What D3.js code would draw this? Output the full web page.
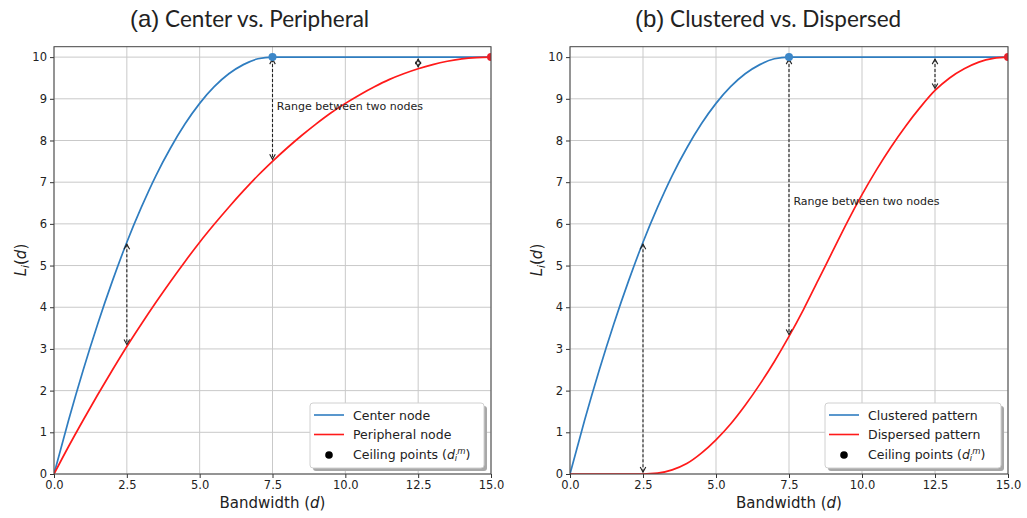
<!DOCTYPE html>
<html>
<head>
<meta charset="utf-8">
<script src="https://cdn.jsdelivr.net/npm/d3@7"></script>
<style>
  html, body { margin: 0; padding: 0; background: #fff; }
  svg { display: block; }
  text { font-family: "DejaVu Sans", sans-serif; fill: #222; }
</style>
</head>
<body>
<svg id="fig" width="1027" height="518"></svg>
<script>
// Bandwidth samples (d) shared by every curve
const bandwidth = [0,0.5,1,1.5,2,2.5,3,3.5,4,4.5,5,5.5,6,6.5,7,7.5,8,8.5,9,9.5,10,10.5,11,11.5,12,12.5,13,13.5,14,14.5,15];

// (a) Center vs. Peripheral
const centerNode = [0,1.29,2.49,3.6,4.62,5.56,6.4,7.16,7.82,8.4,8.89,9.29,9.6,9.82,9.96,10,10,10,10,10,10,10,10,10,10,10,10,10,10,10,10];
const peripheralNode = [0,0.66,1.29,1.9,2.49,3.06,3.6,4.12,4.62,5.1,5.56,5.99,6.4,6.79,7.16,7.5,7.82,8.12,8.4,8.66,8.89,9.1,9.29,9.46,9.6,9.72,9.82,9.9,9.96,9.99,10];

// (b) Clustered vs. Dispersed
const clusteredPattern = centerNode.slice();
const dispersedPattern = [0,0,0,0,0,0,0.02,0.1,0.25,0.5,0.82,1.2,1.65,2.15,2.7,3.3,3.95,4.65,5.35,6.05,6.7,7.3,7.85,8.35,8.8,9.2,9.5,9.72,9.88,9.97,10];

// Ceiling points (d_i^m, L)
const ceilingA = [[7.5, 10, "blue"], [15, 10, "red"]];
const ceilingB = [[7.5, 10, "blue"], [15, 10, "red"]];

// Range arrows: [d, upper L, lower L]
const rangesA = [[2.5, 5.56, 3.06], [7.5, 10, 7.5], [12.5, 10, 9.72]];
const rangesB = [[2.5, 5.56, 0], [7.5, 10, 3.3], [12.5, 10, 9.2]];

const xTicks = [0, 2.5, 5, 7.5, 10, 12.5, 15];
const yTicks = [0,1,2,3,4,5,6,7,8,9,10];

const BLUE = "#2f7dc0", RED = "#ff1a1a";

const svg = d3.select("#fig");

function panel(cfg) {
  const x = d3.scaleLinear().domain([0, 15]).range([cfg.left, cfg.right]);
  const y = d3.scaleLinear().domain([0, 10.25]).range([474, 46.7]);
  const g = svg.append("g");
  const clipId = "clip-" + cfg.key;
  svg.append("defs").append("clipPath").attr("id", clipId)
    .append("rect").attr("x", cfg.left).attr("y", 46.7)
    .attr("width", cfg.right - cfg.left).attr("height", 474 - 46.7);

  // grid
  g.append("g").selectAll("line").data(xTicks).join("line")
    .attr("x1", d => x(d)).attr("x2", d => x(d))
    .attr("y1", y(10.25)).attr("y2", y(0))
    .attr("stroke", "#c9c9c9").attr("stroke-width", 1);
  g.append("g").selectAll("line").data(yTicks).join("line")
    .attr("y1", d => y(d)).attr("y2", d => y(d))
    .attr("x1", cfg.left).attr("x2", cfg.right)
    .attr("stroke", "#c9c9c9").attr("stroke-width", 1);

  // axes
  const xAxis = d3.axisBottom(x).tickValues(xTicks).tickFormat(d3.format(".1f")).tickSizeOuter(0).tickSize(4).tickPadding(3);
  const gx = g.append("g").attr("transform", `translate(0,${y(0)})`).call(xAxis);
  const yAxis = d3.axisLeft(y).tickValues(yTicks).tickFormat(d3.format("d")).tickSizeOuter(0).tickSize(4).tickPadding(3);
  const gy = g.append("g").attr("transform", `translate(${cfg.left},0)`).call(yAxis);
  [gx, gy].forEach(a => {
    a.select(".domain").remove();
    a.selectAll("line").attr("stroke", "#333");
    a.selectAll("text").attr("font-size", 11.5).attr("fill", "#2a2a2a").style("font-family", "DejaVu Sans");
  });

  // curves
  const line = d3.line().x((d, i) => x(bandwidth[i])).y(d => y(d)).curve(d3.curveMonotoneX);
  const curves = g.append("g").attr("clip-path", `url(#${clipId})`);
  curves.append("path").attr("d", line(cfg.blue)).attr("fill", "none").attr("stroke", BLUE).attr("stroke-width", 1.7);
  curves.append("path").attr("d", line(cfg.red)).attr("fill", "none").attr("stroke", RED).attr("stroke-width", 1.7);

  // range arrows
  const arr = g.append("g").attr("stroke", "#222").attr("stroke-width", 1.1).attr("fill", "none");
  cfg.ranges.forEach(([d, hi, lo]) => {
    const xp = x(d), y1 = y(hi) + 2, y2 = y(lo) - 2;
    arr.append("line").attr("x1", xp).attr("x2", xp).attr("y1", y1).attr("y2", y2)
      .attr("stroke-dasharray", "3,2");
    arr.append("path").attr("d", `M${xp - 2.8},${y1 + 5}L${xp},${y1}L${xp + 2.8},${y1 + 5}`);
    arr.append("path").attr("d", `M${xp - 2.8},${y2 - 5}L${xp},${y2}L${xp + 2.8},${y2 - 5}`);
  });
  g.append("text").attr("x", x(cfg.noteX)).attr("y", y(cfg.noteY))
    .attr("font-size", 11).text("Range between two nodes");

  // ceiling points
  g.append("g").attr("clip-path", `url(#${clipId})`).selectAll("circle").data(cfg.ceiling).join("circle")
    .attr("cx", d => x(d[0])).attr("cy", d => y(d[1])).attr("r", 4)
    .attr("fill", d => d[2] === "blue" ? "#3c87c8" : "#e8202a");

  // frame
  g.append("rect").attr("x", cfg.left).attr("y", 46.7)
    .attr("width", cfg.right - cfg.left).attr("height", 474 - 46.7)
    .attr("fill", "none").attr("stroke", "#444").attr("stroke-width", 1);

  // axis labels
  const xl = g.append("text").attr("x", (cfg.left + cfg.right) / 2).attr("y", 508)
    .attr("text-anchor", "middle").attr("font-size", 15);
  xl.append("tspan").text("Bandwidth (");
  xl.append("tspan").attr("font-style", "italic").text("d");
  xl.append("tspan").text(")");

  const yl = g.append("text").attr("transform", `translate(${cfg.left - 28},260) rotate(-90)`)
    .attr("text-anchor", "middle").attr("font-size", 15);
  yl.append("tspan").attr("font-style", "italic").text("L");
  yl.append("tspan").attr("font-style", "italic").attr("font-size", 10.5).attr("dy", 3).text("i");
  yl.append("tspan").attr("dy", -3).text("(");
  yl.append("tspan").attr("font-style", "italic").text("d");
  yl.append("tspan").text(")");

  // title
  const t = svg.append("text").attr("x", cfg.titleX).attr("y", 27);
  t.append("tspan").style("font-family", "Liberation Sans").attr("font-size", 24).text(cfg.tag);
  t.append("tspan").style("font-family", "Lato").attr("font-size", 22.5).text(" " + cfg.title);

  // legend
  const lw = cfg.legendW, lh = 65;
  const lx = cfg.right - 7 - lw, ly = 474 - 6 - lh;
  const lg = g.append("g");
  lg.append("rect").attr("x", lx + 3).attr("y", ly + 3).attr("width", lw).attr("height", lh)
    .attr("rx", 3).attr("fill", "#a8a8a8");
  lg.append("rect").attr("x", lx).attr("y", ly).attr("width", lw).attr("height", lh)
    .attr("rx", 3).attr("fill", "#fff").attr("stroke", "#d0d0d0");
  const rows = [ly + 12, ly + 31.5, ly + 51];
  lg.append("line").attr("x1", lx + 4).attr("x2", lx + 34).attr("y1", rows[0]).attr("y2", rows[0])
    .attr("stroke", BLUE).attr("stroke-width", 1.6);
  lg.append("line").attr("x1", lx + 4).attr("x2", lx + 34).attr("y1", rows[1]).attr("y2", rows[1])
    .attr("stroke", RED).attr("stroke-width", 1.6);
  lg.append("circle").attr("cx", lx + 19).attr("cy", rows[2] + 1).attr("r", 3.8).attr("fill", "#000");
  cfg.labels.forEach((lab, i) => {
    lg.append("text").attr("x", lx + 43).attr("y", rows[i] + 4.5).attr("font-size", 12.5).text(lab);
  });
  const ct = lg.append("text").attr("x", lx + 43).attr("y", rows[2] + 4.5).attr("font-size", 12.5);
  ct.append("tspan").text("Ceiling points (");
  ct.append("tspan").attr("font-style", "italic").text("d");
  ct.append("tspan").attr("font-style", "italic").attr("font-size", 8.5).attr("dy", 2).text("i");
  ct.append("tspan").attr("font-style", "italic").attr("font-size", 8.5).attr("dy", -7).text("m");
  ct.append("tspan").attr("dy", 5).text(")");
}

panel({
  key: "a", left: 54, right: 491, titleX: 130, tag: "(a)", title: "Center vs. Peripheral",
  blue: centerNode, red: peripheralNode, ranges: rangesA, ceiling: ceilingA,
  noteX: 7.65, noteY: 8.73, legendW: 174, labels: ["Center node", "Peripheral node"]
});
panel({
  key: "b", left: 570, right: 1008, titleX: 635, tag: "(b)", title: "Clustered vs. Dispersed",
  blue: clusteredPattern, red: dispersedPattern, ranges: rangesB, ceiling: ceilingB,
  noteX: 7.65, noteY: 6.45, legendW: 176, labels: ["Clustered pattern", "Dispersed pattern"]
});
</script>
</body>
</html>
